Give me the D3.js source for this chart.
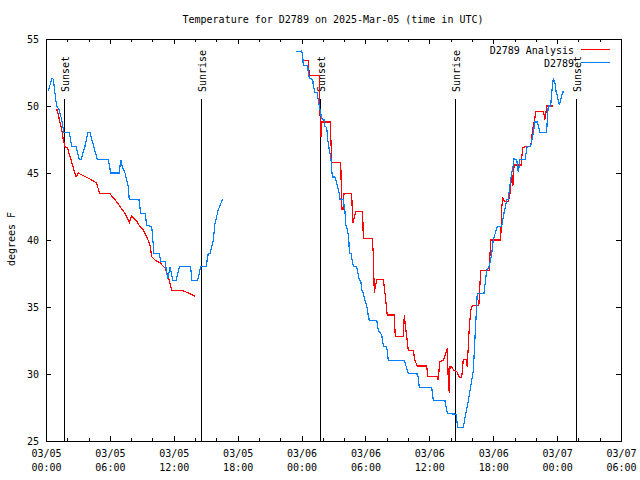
<!DOCTYPE html>
<html>
<head>
<meta charset="utf-8">
<script src="https://cdn.jsdelivr.net/npm/d3@7"></script>
<style>
html,body{margin:0;padding:0;background:#fff;}
svg text{font-family:"DejaVu Sans Mono",monospace;font-size:10px;fill:#000;}
</style>
</head>
<body>
<svg id="chart" width="640" height="480"></svg>
<script>
// ---- data (hours since 2025-03-05 00:00 UTC, degrees F); null = gap ----
const analysisHours = [0.91,1.06,1.25,1.47,1.62,1.78,2.0,2.25,2.56,2.82,3.03,3.50,4.13,4.76,5.01,6.01,6.48,6.95,7.42,7.82,8.05,8.52,8.83,9.14,9.46,9.77,9.93,10.24,10.71,11.18,11.49,11.80,12.89,13.52,13.99,
  null,
  24.11,24.63,24.73,25.67,25.73,25.83,25.92,26.70,26.83,27.68,27.77,27.89,27.99,28.71,28.80,28.93,29.09,29.74,29.80,30.64,30.74,30.83,30.99,31.05,31.68,31.84,32.0,32.05,32.71,32.80,33.56,33.65,33.75,33.88,34.02,34.49,34.65,34.87,35.75,35.85,36.75,36.84,36.94,37.0,37.31,37.47,37.69,37.78,37.87,37.94,38.10,38.31,38.57,38.81,39.04,39.19,39.44,39.56,39.72,39.88,40.03,40.65,40.82,41.63,41.76,42.70,42.80,42.89,43.04,43.42,43.58,43.74,43.84,43.96,44.62,44.77,45.20,45.52,45.71,46.02,46.71,46.87,47.03,47.65];
const analysisTemps = [49.7,49.7,49.0,48.25,47.5,46.95,46.9,46.25,45.4,44.7,45.0,44.8,44.55,44.25,43.5,43.45,43.0,42.5,42.0,41.3,41.8,41.4,41.0,40.75,40.25,39.6,38.75,38.5,38.3,37.9,37.25,36.25,36.2,36.0,35.8,
  null,
  53.4,53.4,52.25,52.25,49.5,47.7,48.8,48.8,45.8,45.8,42.3,42.3,43.45,43.45,41.25,41.6,42.1,42.1,40.1,40.1,39.0,36.05,36.75,37.05,37.05,36.0,34.75,34.4,34.4,32.8,32.8,34.4,33.6,32.75,31.75,31.75,31.0,30.6,30.6,29.8,29.8,29.55,30.55,30.95,31.0,31.4,31.9,29.5,28.6,30.55,30.55,30.25,30.2,29.75,29.75,31.1,31.1,30.55,33.0,34.75,35.1,35.1,37.75,37.75,40.0,40.0,42.4,43.2,42.9,42.9,43.5,45.0,44.0,45.6,45.6,46.9,47.0,47.0,48.25,49.6,49.6,49.0,50.0,50.0];

const stationHours = [0.22,0.54,0.69,0.91,1.0,1.22,1.47,1.69,2.19,2.41,2.82,3.13,3.29,3.66,3.92,4.13,4.82,5.85,6.08,6.88,7.02,7.11,7.42,7.73,7.82,8.73,8.89,9.30,9.46,9.93,10.14,10.64,10.77,11.18,11.43,11.65,11.90,12.21,12.52,13.59,13.68,14.25,14.53,15.03,15.24,15.40,15.71,15.87,16.18,16.59,
  null,
  23.48,24.01,24.11,24.16,24.58,24.63,24.73,25.05,25.10,25.26,25.48,25.57,25.73,25.89,26.11,26.14,26.36,26.46,26.60,26.74,26.89,27.14,27.30,27.54,27.61,27.92,28.08,28.17,28.30,28.43,28.49,28.65,28.77,28.86,29.18,29.28,29.42,29.56,29.65,29.80,29.96,30.12,30.21,30.36,31.06,31.21,31.53,31.68,32.0,32.15,33.65,33.87,34.02,34.91,35.06,36.22,36.37,37.47,37.69,38.51,38.67,39.19,39.35,39.66,40.13,40.34,40.50,41.13,41.39,41.60,41.85,42.0,42.38,42.79,43.01,43.27,43.39,43.64,43.74,43.89,43.95,44.20,44.36,44.51,44.98,45.20,45.52,45.71,45.92,46.14,46.39,47.02,47.08,47.17,47.40,47.49,47.64,47.80,47.90,48.02,48.21,48.34,48.53,48.68];
const stationTemps = [51.1,52.05,52.0,50.5,50.0,49.75,49.0,48.0,48.0,47.0,47.0,46.0,46.0,47.0,48.0,48.0,46.0,46.0,45.0,45.0,46.0,45.6,45.0,44.0,43.0,43.0,42.0,42.0,41.1,41.0,39.0,39.0,38.4,38.4,37.1,38.0,37.0,37.0,38.0,38.0,37.0,37.0,38.0,38.0,39.0,39.0,40.0,41.25,42.25,43.05,
  null,
  54.08,54.1,53.75,53.05,53.05,52.5,52.05,52.0,51.5,51.0,51.0,50.4,49.75,49.05,49.0,48.5,48.4,47.5,46.75,46.25,44.7,44.7,44.25,43.5,43.05,43.0,42.1,41.1,40.8,40.2,39.0,39.0,38.4,38.05,38.0,37.6,37.0,37.0,36.3,36.0,35.45,35.1,34.6,34.0,34.0,33.25,32.9,32.1,32.0,31.0,31.0,30.45,30.05,30.0,29.0,29.0,28.05,28.0,27.05,27.0,26.0,26.0,26.75,28.0,30.25,33.5,36.0,36.0,37.75,38.0,38.9,40.0,41.0,41.0,42.0,43.0,43.0,44.5,45.0,45.6,46.05,46.0,45.05,46.0,46.0,47.0,47.0,47.75,48.8,48.8,48.0,48.0,49.05,50.0,50.0,51.0,52.05,51.7,51.1,50.75,50.05,50.5,51.05,51.05];

const sunEventHours = [1.72, 14.51, 25.70, 38.45, 49.74];
const sunEventLabels = ["Sunset", "Sunrise", "Sunset", "Sunrise", "Sunset"];

const yTicks = [25, 30, 35, 40, 45, 50, 55];
const seriesNames = ["D2789 Analysis", "D2789"];
const seriesColors = ["#ff0000", "#0080ff"];
const titleText = "Temperature for D2789 on 2025-Mar-05 (time in UTC)";
const yLabelText = "degrees F";

// ---- layout ----
const L = 46, R = 621, T = 39, B = 441;
const t0 = Date.UTC(2025, 2, 5, 0);
const toDate = h => new Date(t0 + h * 3600e3);

const svg = d3.select("#chart").attr("shape-rendering", "crispEdges");
const x = d3.scaleUtc().domain([toDate(0), toDate(54)]).range([L, R]);
const y = d3.scaleLinear().domain([25, 55]).range([B, T]);

// title
svg.append("text").attr("x", 333).attr("y", 23).attr("text-anchor", "middle").text(titleText);
// y label
svg.append("text").attr("transform", "translate(11,239) rotate(-90)")
  .attr("text-anchor", "middle").attr("dominant-baseline", "central").text(yLabelText);

// axes
const fmtDate = d3.utcFormat("%m/%d"), fmtTime = d3.utcFormat("%H:%M");
const xMajor = d3.utcHour.every(6);
const xMinor = d3.utcHour.every(2);

const gxb = svg.append("g").attr("transform", `translate(0,${B})`)
  .call(d3.axisBottom(x).ticks(xMajor).tickSizeInner(-5).tickSizeOuter(0).tickPadding(0));
gxb.selectAll("text").each(function(d) {
  const t = d3.select(this);
  t.text(null).attr("dy", null).attr("y", null);
  t.append("tspan").attr("x", 0).attr("y", 16).text(fmtDate(d));
  t.append("tspan").attr("x", 0).attr("y", 30).text(fmtTime(d));
});
svg.append("g").attr("transform", `translate(0,${B})`)
  .call(d3.axisBottom(x).ticks(xMinor).tickSizeInner(-3).tickSizeOuter(0).tickFormat(""));
svg.append("g").attr("transform", `translate(0,${T})`)
  .call(d3.axisTop(x).ticks(xMajor).tickSizeInner(-5).tickSizeOuter(0).tickFormat(""));
svg.append("g").attr("transform", `translate(0,${T})`)
  .call(d3.axisTop(x).ticks(xMinor).tickSizeInner(-3).tickSizeOuter(0).tickFormat(""));
svg.append("g").attr("transform", `translate(${L},0)`)
  .call(d3.axisLeft(y).tickValues(yTicks).tickSizeInner(-5).tickSizeOuter(0).tickPadding(7));
svg.append("g").attr("transform", `translate(${R},0)`)
  .call(d3.axisRight(y).tickValues(yTicks).tickSizeInner(-5).tickSizeOuter(0).tickFormat(""));
svg.selectAll(".domain").remove();
svg.selectAll(".tick line").attr("stroke", "#000");
svg.selectAll(".tick text").attr("font-family", "DejaVu Sans Mono").attr("font-size", 10).attr("fill", "#000");

// sunrise / sunset markers
const sun = svg.append("g");
sunEventHours.forEach((h, i) => {
  const xp = Math.round(x(toDate(h))) + 0.5;
  sun.append("line").attr("x1", xp).attr("x2", xp).attr("y1", 99).attr("y2", B).attr("stroke", "#000");
  sun.append("text").attr("transform", `translate(${xp + 0.5},92) rotate(-90)`)
    .attr("dominant-baseline", "central").text(sunEventLabels[i]);
});

// series
const line = d3.line()
  .defined(d => d[0] !== null && d[1] !== null)
  .x(d => x(toDate(d[0]))).y(d => y(d[1]));
const seriesData = [
  analysisHours.map((h, i) => [h, analysisTemps[i]]),
  stationHours.map((h, i) => [h, stationTemps[i]])
];
seriesData.forEach((data, i) => {
  svg.append("path").datum(data).attr("d", line)
    .attr("fill", "none").attr("stroke", seriesColors[i]).attr("stroke-width", 1.2)
    .attr("shape-rendering", "crispEdges");
});

// legend
const legY = [49.5, 62.5];
seriesNames.forEach((n, i) => {
  svg.append("text").attr("x", 574).attr("y", legY[i] + 4).attr("text-anchor", "end").text(n);
  svg.append("line").attr("x1", 581).attr("x2", 610).attr("y1", legY[i]).attr("y2", legY[i])
    .attr("stroke", seriesColors[i]).attr("stroke-width", 1.2);
});

// frame
svg.append("rect").attr("x", L + 0.5).attr("y", T + 0.5).attr("width", R - L).attr("height", B - T)
  .attr("fill", "none").attr("stroke", "#000");
</script>
</body>
</html>
